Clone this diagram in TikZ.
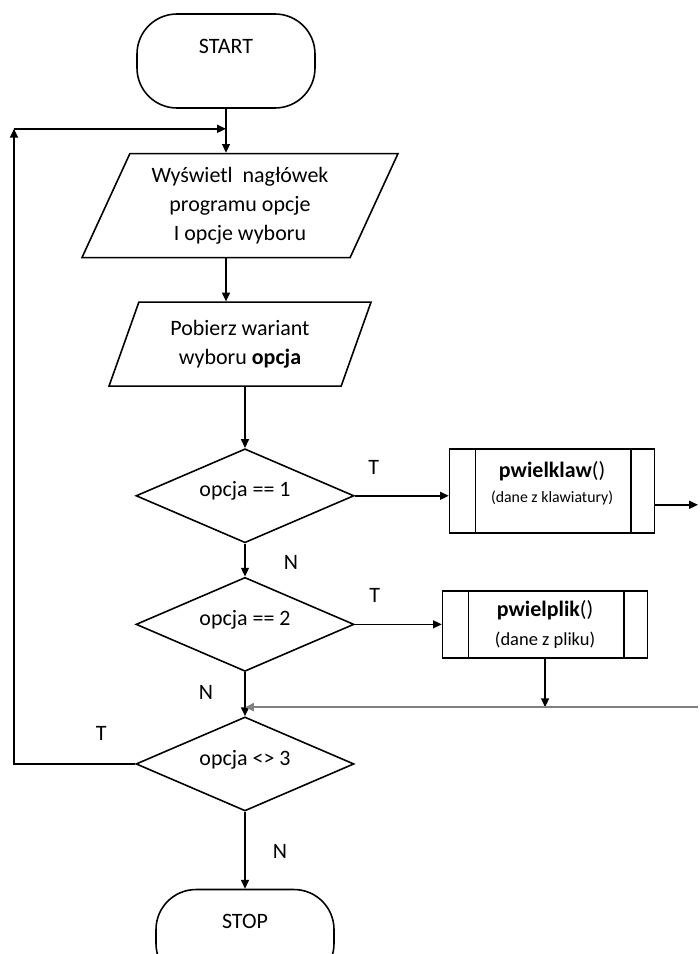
\documentclass[tikz,border=0pt]{standalone}
\usepackage{fontspec}
\setmainfont{Carlito}
\usetikzlibrary{shapes,arrows.meta,calc,positioning}

\begin{document}
\begin{tikzpicture}[
  >={Triangle[length=5pt,width=4.5pt]},
  line width=0.9pt,
  font=\fontsize{12.5}{16.4}\selectfont,
  term/.style={draw, rectangle, rounded corners=0.8cm, minimum width=3.56cm, minimum height=1.88cm, text depth=0.6cm},
  io/.style={draw, trapezium, trapezium left angle=58, trapezium right angle=122, trapezium stretches body, align=center, inner sep=0pt},
  decision/.style={draw, diamond, aspect=2.3, minimum width=4.36cm, minimum height=1.88cm, inner sep=0pt, text depth=0.26cm},
  subproc/.style={draw, rectangle, align=center, minimum width=4.1cm, inner ysep=1pt, path picture={
    \draw ([xshift=0.52cm]path picture bounding box.north west) -- ([xshift=0.52cm]path picture bounding box.south west);
    \draw ([xshift=-0.47cm]path picture bounding box.north east) -- ([xshift=-0.47cm]path picture bounding box.south east);
  }},
  lbl/.style={inner sep=0pt}
]
    \useasboundingbox (0,0) rectangle (14,-19.08);

    \node [term] (start) at (4.52,-1.22) {START};

    \node [io, minimum width=6.32cm, minimum height=2.08cm, below=0.88cm of start, xshift=0.28cm] (disp) {
    Wyświetl\ \ nagłówek\\ programu opcje\\ I opcje wyboru};

    \node [io, minimum width=5.24cm, minimum height=1.68cm, below=0.86cm of disp] (read) {
    Pobierz wariant\\ wyboru \textbf{opcja}};

    \node [decision, below=1.22cm of read, xshift=0.1cm] (d1) {opcja == 1};
    \node [decision, below=0.66cm of d1] (d2) {opcja == 2};
    \node [decision, below=0.88cm of d2] (d3) {opcja <> 3};

    \node [term, below=1.54cm of d3] (stop) {STOP};

    \node [subproc, minimum height=1.68cm, right=1.88cm of d1, yshift=0.1cm] (klaw) {
    \textbf{pwielklaw}()\\[-2pt] {\fontsize{9}{11}\selectfont (dane z klawiatury)}\\[-6pt] \mbox{}};

    \node [subproc, minimum height=1.34cm, right=1.74cm of d2] (plik) {
    \textbf{pwielplik}()\\ {\fontsize{10.5}{13}\selectfont (dane z pliku)}};

    \coordinate (entry) at ([yshift=-0.4cm]start.south);
    \coordinate (join) at ([yshift=0.18cm]d3.north);
    \coordinate (leftX) at (0.28,0);
    \coordinate (rightX) at (13.96,0);
    \coordinate (out1) at ([yshift=-0.28cm]klaw.east);

  \draw[->] (start) -- (start |- disp.north);
  \draw[->] (start |- disp.south) -- (start |- read.north);
  \draw[->] (read.south -| d1) -- (d1);
  \draw[->] (d1) -- (d2);
  \draw[->] (d2) -- (d3);
  \draw[->] (d3) -- (stop);
  \draw[->] (d1.east) -- (d1.east -| klaw.west);
  \draw[->] (d2.east) -- (d2.east -| plik.west);
  \draw[->] (out1) -- (out1 -| rightX);
  \draw[->] (plik) -- (plik |- join);
  \draw[->, line width=1.5pt, draw=gray] (rightX |- join) -- (join);
  \draw[->] (d3.west) -- (leftX |- d3.west) -- (leftX |- entry);
  \draw[->] (leftX |- entry) -- (entry);

  \node [lbl] at ([shift={(0.38,0.56)}]d1.east) {T};
  \node [lbl] at ([shift={(0.92,-0.38)}]d1.south) {N};
  \node [lbl] at ([shift={(0.40,0.58)}]d2.east) {T};
  \node [lbl] at ([shift={(-0.78,-0.40)}]d2.south) {N};
  \node [lbl] at ([shift={(-0.68,0.60)}]d3.west) {T};
  \node [lbl] at ([shift={(0.70,-0.80)}]d3.south) {N};
\end{tikzpicture}
\end{document}
